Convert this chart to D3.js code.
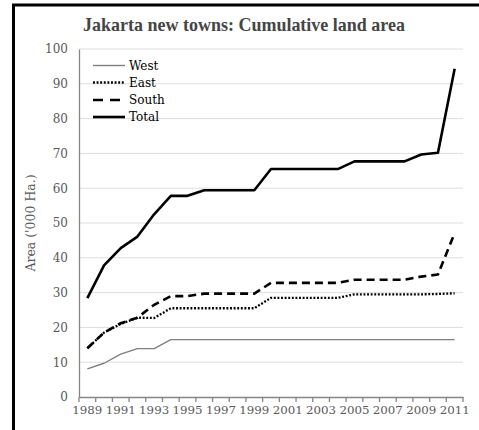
<!DOCTYPE html>
<html>
<head>
<meta charset="utf-8">
<script src="https://cdn.jsdelivr.net/npm/d3@7"></script>
<style>
html,body{margin:0;padding:0;background:#fff;overflow:hidden;}
svg{display:block;}
</style>
</head>
<body>
<svg id="chart" width="479" height="430"></svg>
<script>
const years = ["1989","1990","1991","1992","1993","1994","1995","1996","1997","1998","1999","2000","2001","2002","2003","2004","2005","2006","2007","2008","2009","2010","2011"];
const west  = [8.1, 9.7, 12.3, 13.9, 13.9, 16.5, 16.5, 16.5, 16.5, 16.5, 16.5, 16.5, 16.5, 16.5, 16.5, 16.5, 16.5, 16.5, 16.5, 16.5, 16.5, 16.5, 16.5];
const east  = [14.0, 18.5, 21.0, 22.8, 22.7, 25.5, 25.5, 25.5, 25.5, 25.5, 25.5, 28.5, 28.5, 28.5, 28.5, 28.5, 29.5, 29.5, 29.5, 29.5, 29.5, 29.6, 29.8];
const south = [14.0, 18.5, 21.2, 22.8, 26.5, 29.0, 29.0, 29.7, 29.7, 29.7, 29.7, 32.8, 32.8, 32.8, 32.8, 32.8, 33.7, 33.7, 33.7, 33.7, 34.6, 35.2, 47.1];
const total = [28.4, 37.8, 42.8, 46.1, 52.5, 57.8, 57.8, 59.4, 59.4, 59.4, 59.4, 65.5, 65.5, 65.5, 65.5, 65.5, 67.7, 67.7, 67.7, 67.7, 69.7, 70.2, 94.3];
const yTicks = [0,10,20,30,40,50,60,70,80,90,100];
const xLabels = ["1989","1991","1993","1995","1997","1999","2001","2003","2005","2007","2009","2011"];
const seriesNames = ["West","East","South","Total"];

(function(){
const svg = d3.select("#chart");
const font = "'DejaVu Serif', serif";
const textCol = "#595959";

// frame (only top and left edges are visible in the reference)
svg.append("path").attr("d","M13.5,430 V5 H479")
  .attr("fill","none").attr("stroke","#000").attr("stroke-width",3);

const pL = 79, pR = 463, pT = 49, pB = 397;
const x = d3.scaleBand().domain(years).range([pL,pR]).padding(0);
const y = d3.scaleLinear().domain([0,100]).range([pB,pT]);
const cx = d => x(d) + x.bandwidth()/2;

// gridlines
svg.append("g").selectAll("line").data(yTicks.filter(d=>d>0)).join("line")
  .attr("x1",pL).attr("x2",pR).attr("y1",d=>y(d)).attr("y2",d=>y(d))
  .attr("stroke","#dedede").attr("stroke-width",1);

// y axis
const yAxis = svg.append("g").attr("transform",`translate(${pL},0)`)
  .call(d3.axisLeft(y).tickValues(yTicks).tickSize(0).tickPadding(11));
yAxis.select(".domain").attr("stroke","#868686").attr("stroke-width",1.3);
yAxis.selectAll("text").attr("font-family",font).attr("font-size",12).attr("fill",textCol);

// x axis
const xAxis = svg.append("g").attr("transform",`translate(0,${pB})`)
  .call(d3.axisBottom(x).tickValues(xLabels).tickSize(0).tickPadding(9));
xAxis.select(".domain").attr("stroke","#868686").attr("stroke-width",1.3);
xAxis.selectAll("text").attr("font-family",font).attr("font-size",11.8).attr("fill",textCol);
// boundary ticks
const bounds = years.map(d=>x(d)).concat([x(years[years.length-1])+x.bandwidth()]);
svg.append("g").selectAll("line").data(bounds).join("line")
  .attr("x1",d=>d).attr("x2",d=>d).attr("y1",pB).attr("y2",pB+5)
  .attr("stroke","#868686").attr("stroke-width",1.3);

// lines
const styles = {
  West:  {data: west,  stroke:"#808080", width:1.4, dash:null},
  East:  {data: east,  stroke:"#000", width:2.3, dash:"1.9,1.7"},
  South: {data: south, stroke:"#000", width:2.6, dash:"8,5"},
  Total: {data: total, stroke:"#000", width:2.6, dash:null}
};
const line = d3.line().x((d,i)=>cx(years[i])).y(d=>y(d));
seriesNames.forEach(n=>{
  const s = styles[n];
  svg.append("path").datum(s.data).attr("d",line)
    .attr("fill","none").attr("stroke",s.stroke).attr("stroke-width",s.width)
    .attr("stroke-dasharray",s.dash).attr("stroke-linejoin","round");
});

// legend
const legY = [65.5, 82.5, 100, 117];
seriesNames.forEach((n,i)=>{
  const s = styles[n];
  svg.append("line").attr("x1",93).attr("x2",125).attr("y1",legY[i]).attr("y2",legY[i])
    .attr("stroke",s.stroke).attr("stroke-width",s.width)
    .attr("stroke-dasharray", n==="South" ? "10,7" : s.dash);
  svg.append("text").attr("x",129).attr("y",legY[i]).attr("dy","0.36em")
    .attr("font-family",font).attr("font-size",12).attr("fill","#000").text(n);
});

// title (fit to reference width)
const title = svg.append("text").attr("x",244).attr("y",31).attr("text-anchor","middle")
  .attr("font-family","'Liberation Serif', serif").attr("font-weight","bold").attr("font-size",18)
  .attr("fill","#454545").text("Jakarta new towns: Cumulative land area");
const tw = title.node().getComputedTextLength();
if (tw > 0) title.attr("font-size", 18 * 322 / tw);

// y axis title
svg.append("text").attr("transform",`translate(35,${(pT+pB)/2}) rotate(-90)`)
  .attr("text-anchor","middle").attr("font-family",font).attr("font-size",12.5)
  .attr("fill",textCol).text("Area ('000 Ha.)");
})();
</script>
</body>
</html>
